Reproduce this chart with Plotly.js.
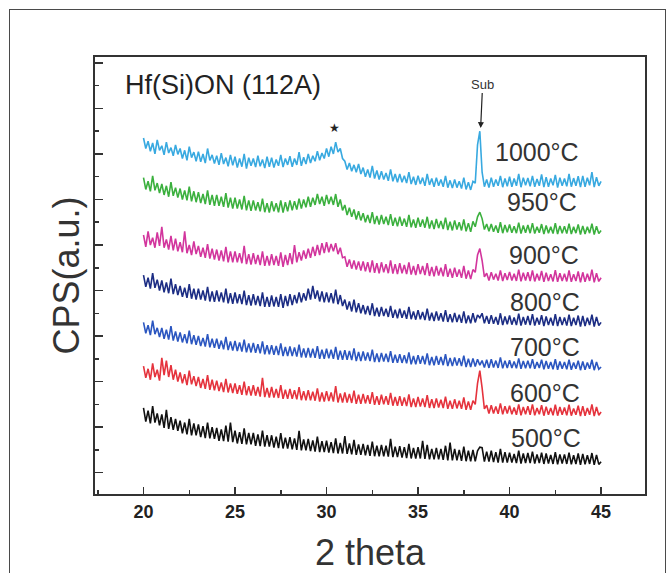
<!DOCTYPE html>
<html>
<head>
<meta charset="utf-8">
<script src="https://cdn.plot.ly/plotly-3.0.1.min.js"></script>
<style>
  html, body { margin: 0; padding: 0; background: #fff; width: 671px; height: 573px; overflow: hidden; }
  #frame { position: absolute; left: 9px; top: 9px; width: 657px; height: 600px; border: 1.5px solid #4a4a4a; box-sizing: border-box; }
  #chart { position: absolute; left: 0; top: 0; width: 671px; height: 573px; }
</style>
</head>
<body>
<div id="frame"></div>
<div id="chart"></div>
<script>
// 2-theta sampling grid (degrees)
const twoTheta = [
  20,20.125,20.25,20.375,20.5,20.625,20.75,20.875,
  21,21.125,21.25,21.375,21.5,21.625,21.75,21.875,
  22,22.125,22.25,22.375,22.5,22.625,22.75,22.875,
  23,23.125,23.25,23.375,23.5,23.625,23.75,23.875,
  24,24.125,24.25,24.375,24.5,24.625,24.75,24.875,
  25,25.125,25.25,25.375,25.5,25.625,25.75,25.875,
  26,26.125,26.25,26.375,26.5,26.625,26.75,26.875,
  27,27.125,27.25,27.375,27.5,27.625,27.75,27.875,
  28,28.125,28.25,28.375,28.5,28.625,28.75,28.875,
  29,29.125,29.25,29.375,29.5,29.625,29.75,29.875,
  30,30.125,30.25,30.375,30.5,30.625,30.75,30.875,
  31,31.125,31.25,31.375,31.5,31.625,31.75,31.875,
  32,32.125,32.25,32.375,32.5,32.625,32.75,32.875,
  33,33.125,33.25,33.375,33.5,33.625,33.75,33.875,
  34,34.125,34.25,34.375,34.5,34.625,34.75,34.875,
  35,35.125,35.25,35.375,35.5,35.625,35.75,35.875,
  36,36.125,36.25,36.375,36.5,36.625,36.75,36.875,
  37,37.125,37.25,37.375,37.5,37.625,37.75,37.875,
  38,38.125,38.25,38.375,38.5,38.625,38.75,38.875,
  39,39.125,39.25,39.375,39.5,39.625,39.75,39.875,
  40,40.125,40.25,40.375,40.5,40.625,40.75,40.875,
  41,41.125,41.25,41.375,41.5,41.625,41.75,41.875,
  42,42.125,42.25,42.375,42.5,42.625,42.75,42.875,
  43,43.125,43.25,43.375,43.5,43.625,43.75,43.875,
  44,44.125,44.25,44.375,44.5,44.625,44.75,44.875,
  45
];

// CPS (a.u.), stacked as plotted
const cps1000 = [
  735,712,728,706,724,700,731,708,
  718,698,726,702,714,696,720,699,
  712,690,708,686,716,692,704,684,
  705,683,700,680,712,686,698,679,
  696,676,702,678,692,673,698,675,
  694,670,690,672,700,668,692,674,
  690,671,696,673,688,669,694,672,
  692,670,688,674,698,671,690,676,
  695,672,690,676,704,674,693,678,
  700,680,696,684,706,686,702,690,
  712,694,716,700,726,704,712,690,
  684,666,680,662,676,660,678,656,
  670,650,666,648,674,646,664,644,
  662,644,658,641,666,640,656,638,
  656,638,652,636,660,634,650,632,
  652,634,648,630,656,632,646,628,
  648,630,644,628,652,626,642,625,
  644,626,640,624,648,622,638,621,
  640,636,720,750,660,628,644,626,
  648,628,644,630,652,627,646,629,
  650,628,646,630,656,627,648,631,
  647,629,652,628,645,630,655,627,
  649,628,646,631,654,626,648,630,
  646,629,656,628,647,630,651,627,
  652,628,648,631,660,627,649,630,
  640
];
const cps950 = [
  648,622,640,618,652,620,636,614,
  634,610,630,606,638,608,626,604,
  624,600,620,598,628,596,618,594,
  616,592,612,590,620,588,610,586,
  610,586,606,584,614,582,604,580,
  604,580,600,578,608,576,598,575,
  598,576,594,574,602,572,592,571,
  596,574,592,572,598,571,594,574,
  598,576,596,578,602,580,600,583,
  606,584,604,588,612,590,606,586,
  610,590,606,588,612,584,600,576,
  588,566,582,562,578,556,574,554,
  570,550,566,548,572,546,564,545,
  566,546,562,544,568,542,560,541,
  562,542,558,540,566,539,556,538,
  560,540,556,538,562,536,554,535,
  557,537,553,535,560,533,551,532,
  554,534,550,532,556,530,548,529,
  552,540,562,572,558,534,546,530,
  546,529,543,527,550,526,544,528,
  545,527,541,526,549,525,543,527,
  544,526,548,525,540,527,546,524,
  543,526,540,525,548,524,542,526,
  541,525,547,524,540,526,545,523,
  542,524,540,526,547,523,541,525,
  532
];
const cps900 = [
  522,496,530,500,516,494,528,498,
  540,494,512,490,520,488,514,486,
  506,484,530,482,500,478,508,480,
  498,474,494,472,502,470,492,468,
  490,466,488,464,496,462,486,462,
  486,462,482,460,498,458,480,457,
  482,458,478,456,486,454,476,455,
  480,456,476,454,484,452,478,456,
  482,458,500,462,484,466,488,470,
  492,472,496,476,500,478,504,482,
  506,484,502,486,504,480,494,472,
  474,452,468,448,466,446,464,444,
  464,442,462,440,466,439,460,438,
  462,440,458,438,466,437,458,436,
  460,438,456,436,462,435,454,434,
  458,436,454,434,460,432,452,431,
  454,433,450,431,458,430,448,428,
  450,430,446,428,454,426,444,425,
  446,440,478,492,466,430,438,422,
  440,424,437,422,444,421,438,423,
  441,422,437,421,446,420,439,422,
  440,421,444,420,437,422,443,419,
  439,421,436,420,445,419,438,421,
  437,420,444,419,436,421,442,418,
  440,419,437,421,446,418,438,420,
  428
];
const cps800 = [
  434,408,428,404,438,406,424,400,
  422,396,418,394,426,392,414,390,
  410,386,406,384,414,382,404,380,
  404,380,400,378,408,376,398,375,
  400,376,396,374,404,372,394,371,
  396,372,392,370,400,368,390,367,
  392,368,388,366,396,364,386,364,
  389,365,386,364,392,362,388,366,
  392,368,390,372,396,374,394,378,
  404,380,410,382,400,376,398,374,
  396,374,394,372,402,370,390,366,
  380,358,376,354,380,352,372,350,
  368,348,366,346,372,344,362,343,
  364,344,360,342,366,340,358,339,
  360,340,356,338,364,337,354,336,
  357,337,353,335,360,334,351,333,
  354,334,350,332,357,331,348,330,
  351,331,347,329,354,328,345,328,
  350,330,346,340,350,328,344,327,
  346,327,342,325,350,324,343,326,
  345,325,341,324,349,323,342,325,
  344,324,348,323,340,325,346,322,
  343,324,340,323,348,322,342,324,
  341,323,347,322,340,324,345,321,
  344,322,340,324,347,321,342,323,
  330
];
const cps700 = [
  330,306,324,302,334,304,318,298,
  318,294,314,292,322,290,310,288,
  308,286,304,284,312,282,302,281,
  300,278,296,277,304,275,294,274,
  294,272,290,271,298,269,288,268,
  289,267,286,266,292,264,284,264,
  285,263,282,262,288,260,280,260,
  280,259,278,258,284,256,276,256,
  277,256,275,255,281,253,273,253,
  274,253,272,252,278,250,270,250,
  272,251,270,250,276,248,268,248,
  269,248,267,247,273,245,265,245,
  266,246,264,245,270,243,262,243,
  263,244,261,243,267,241,259,241,
  260,241,258,240,264,238,256,238,
  258,239,256,238,262,236,254,236,
  256,237,254,236,260,234,252,234,
  253,235,251,234,257,232,250,232,
  251,233,249,236,246,231,248,230,
  249,231,246,230,253,229,246,230,
  247,230,244,229,251,228,245,229,
  246,229,249,228,243,230,248,227,
  245,228,243,227,249,226,244,228,
  243,227,248,226,242,228,246,225,
  244,226,242,228,248,225,243,227,
  232
];
const cps600 = [
  234,208,228,204,240,210,226,202,
  252,214,246,210,236,204,226,200,
  220,196,216,192,224,194,212,190,
  210,186,206,184,214,182,204,181,
  202,179,198,177,206,176,196,175,
  196,173,192,171,200,170,190,169,
  192,169,188,167,208,166,186,165,
  188,165,184,164,192,162,182,162,
  184,162,181,161,188,159,179,159,
  181,159,178,158,185,156,176,156,
  179,157,176,156,190,154,174,154,
  176,154,173,153,180,151,171,151,
  173,152,170,151,177,149,168,149,
  171,150,168,149,175,147,166,147,
  168,147,165,146,172,144,163,144,
  166,145,163,144,170,142,161,142,
  163,143,160,142,167,140,158,140,
  161,141,158,140,165,138,156,138,
  158,150,196,224,186,140,148,130,
  148,130,145,129,152,128,146,130,
  147,128,143,127,150,126,144,128,
  146,127,150,126,142,128,148,125,
  145,127,142,126,149,125,144,127,
  143,126,149,125,141,127,147,124,
  146,125,142,127,150,124,144,126,
  133
];
const cps500 = [
  142,112,136,108,146,110,130,104,
  128,98,138,96,122,94,118,92,
  114,86,110,84,118,82,108,82,
  106,78,102,76,110,75,100,74,
  98,70,95,69,103,68,110,67,
  92,64,89,63,97,62,87,62,
  87,59,84,58,92,57,82,57,
  82,55,79,54,87,53,77,53,
  78,51,75,50,92,49,73,49,
  74,47,71,46,79,45,69,45,
  70,44,67,43,75,42,65,42,
  80,41,64,40,72,39,62,39,
  63,38,61,37,68,36,59,36,
  61,36,59,35,74,34,57,34,
  58,33,56,32,63,31,54,31,
  56,31,70,30,61,29,52,29,
  54,29,52,28,59,27,66,27,
  52,27,50,26,57,25,48,25,
  50,25,48,56,55,24,46,24,
  48,23,45,22,52,22,45,22,
  44,22,41,21,48,20,42,21,
  43,21,46,20,40,21,44,19,
  42,20,39,19,45,18,40,20,
  40,19,44,18,38,19,42,17,
  41,18,38,19,43,17,39,18,
  24
];

const seriesNames = ["1000°C","950°C","900°C","800°C","700°C","600°C","500°C"];
const seriesData = [cps1000, cps950, cps900, cps800, cps700, cps600, cps500];
const seriesColors = ["#38a9e0","#3bb03e","#d2359d","#1c2d84","#2b56c0","#e5333d","#111111"];
// label positions (2theta, cps)
const labelX = [41.5, 41.75, 41.9, 41.95, 41.95, 41.95, 42.0];
const labelY = [705, 595, 478, 375, 276, 175, 76];

const traces = seriesData.map((ys, i) => ({
  type: 'scatter', mode: 'lines', x: twoTheta, y: ys, name: seriesNames[i],
  line: {color: seriesColors[i], width: 1.6}, showlegend: false, hoverinfo: 'skip'
}));

const font = "Liberation Sans, Arial, sans-serif";
const annotations = seriesNames.map((t, i) => ({
  x: labelX[i], y: labelY[i], xref: 'x', yref: 'y', text: t, showarrow: false,
  font: {family: font, size: 25, color: '#333'}, xanchor: 'center', yanchor: 'middle'
}));
annotations.push({
  x: 0.05, y: 0.935, xref: 'paper', yref: 'paper', xanchor: 'left', yanchor: 'middle',
  text: 'Hf(Si)ON (112A)', showarrow: false, font: {family: font, size: 27, color: '#222'}
});
annotations.push({
  x: 38.42, y: 757, xref: 'x', yref: 'y', text: 'Sub', showarrow: true,
  ax: 2, ay: -44, arrowhead: 2, arrowsize: 1, arrowwidth: 1.2, arrowcolor: '#222',
  font: {family: font, size: 13, color: '#333'}
});
annotations.push({
  x: 30.46, y: 757, xref: 'x', yref: 'y', text: '★', showarrow: false,
  font: {family: "DejaVu Sans", size: 12, color: '#222'}
});

const layout = {
  width: 671, height: 573,
  margin: {l: 95, r: 26, t: 57, b: 79},
  paper_bgcolor: 'rgba(0,0,0,0)', plot_bgcolor: '#fff',
  showlegend: false,
  xaxis: {
    range: [17.35, 47.4], tickmode: 'linear', tick0: 20, dtick: 5,
    ticks: 'inside', ticklen: 7, tickwidth: 1.5, tickcolor: '#333',
    minor: {ticks: 'inside', ticklen: 4, dtick: 2.5, tick0: 20, tickcolor: '#333', tickwidth: 1.5, showgrid: false},
    showgrid: false, zeroline: false, showline: true, mirror: true, linecolor: '#333', linewidth: 2,
    tickfont: {family: font, size: 18, color: '#222', weight: 'bold'},
    title: {text: '2 theta', font: {family: font, size: 36, color: '#333'}, standoff: 22}
  },
  yaxis: {
    range: [-47, 913], tickmode: 'linear', tick0: 0, dtick: 100,
    ticks: 'inside', ticklen: 8, tickwidth: 1.5, tickcolor: '#333',
    minor: {ticks: 'inside', ticklen: 4, dtick: 50, tick0: 0, tickcolor: '#333', tickwidth: 1.5, showgrid: false},
    showticklabels: false, showgrid: false, zeroline: false,
    showline: true, mirror: true, linecolor: '#333', linewidth: 2,
    title: {text: 'CPS(a.u.)', font: {family: font, size: 36, color: '#333'}, standoff: 2}
  },
  annotations: annotations
};

Plotly.newPlot('chart', traces, layout, {displayModeBar: false, staticPlot: true});
</script>
</body>
</html>
